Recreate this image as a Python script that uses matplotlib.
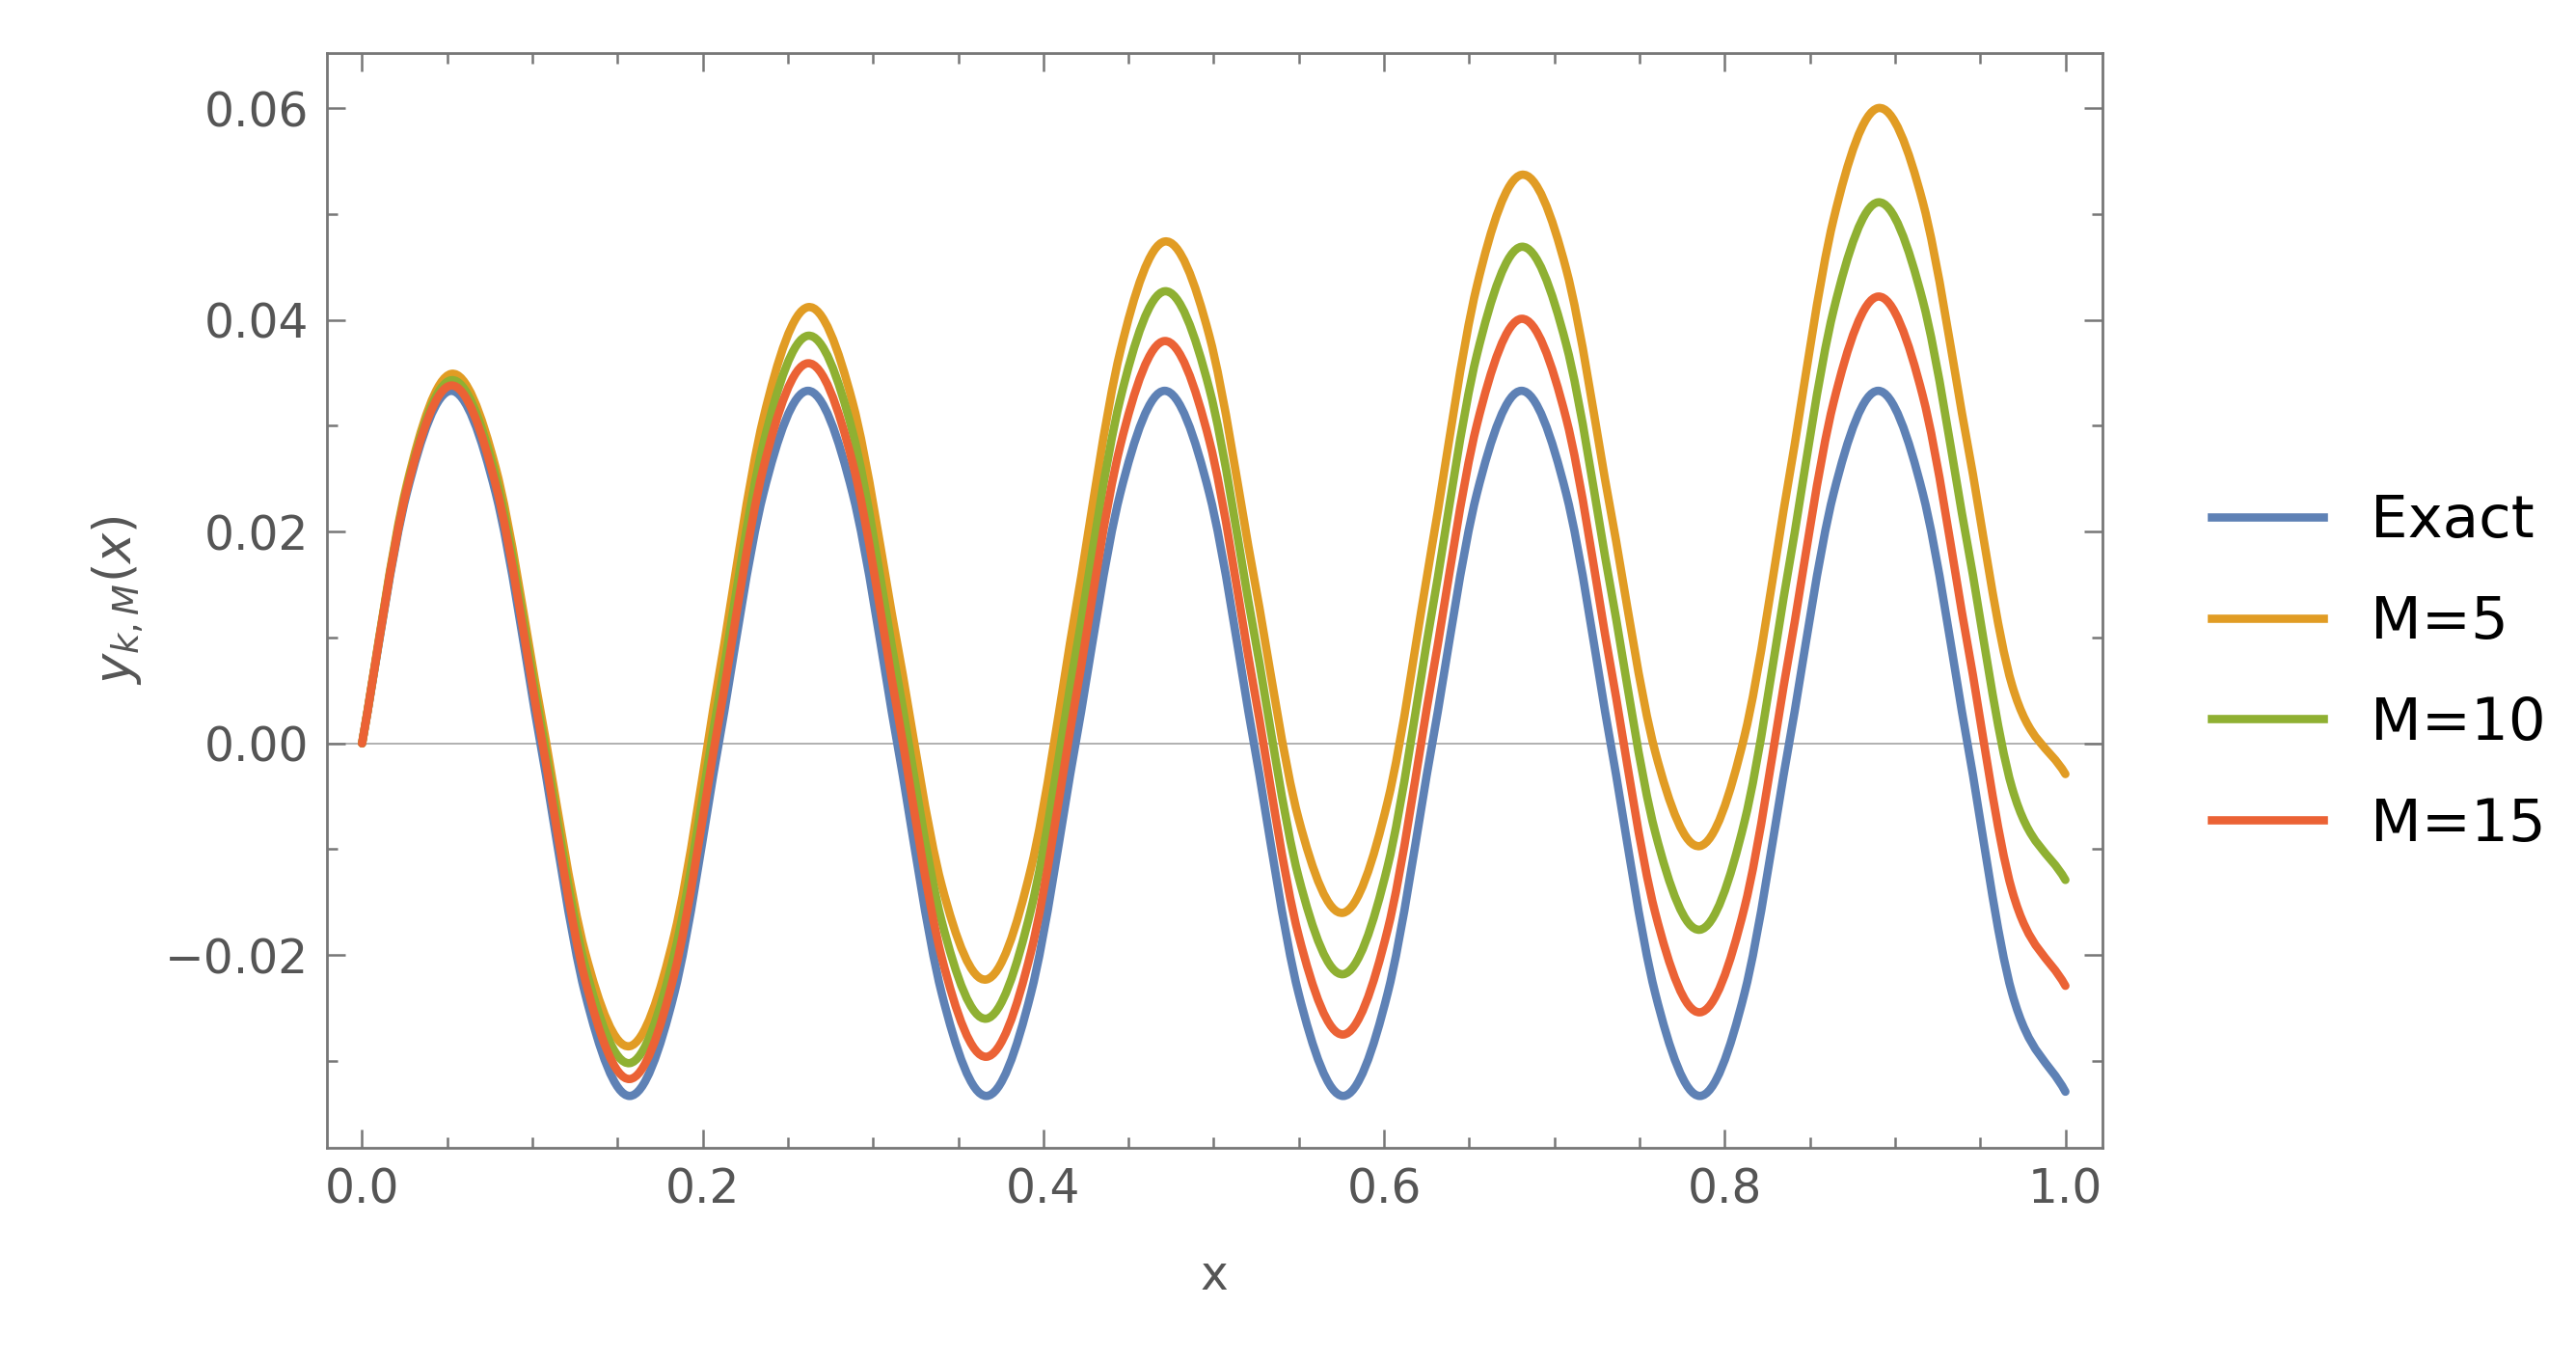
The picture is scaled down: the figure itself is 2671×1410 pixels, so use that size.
import numpy as np
import matplotlib
matplotlib.use("Agg")
import matplotlib.pyplot as plt
from matplotlib.path import Path
from matplotlib.patches import PathPatch
from matplotlib.lines import Line2D
from matplotlib.ticker import MultipleLocator

x = [0, .0262, .0524, .0785, .1047, .1309, .1571, .1833, .2094, .2356, .2618, .2880, .3142, .3403,
     .3665, .3927, .4189, .4451, .4712, .4974, .5236, .5498, .5760, .6021, .6283, .6545, .6807, .7069,
     .7330, .7592, .7854, .8116, .8378, .8639, .8901, .9163, .9425, .9687, 1.0]
exact = [0, .0236, .0333, .0236, 0, -.0236, -.0333, -.0236, 0, .0236, .0333, .0236, 0, -.0236,
         -.0333, -.0236, 0, .0236, .0333, .0236, 0, -.0236, -.0333, -.0236, 0, .0236, .0333, .0236,
         0, -.0236, -.0333, -.0236, 0, .0236, .0333, .0236, 0, -.0236, -.0329]
m5 = [0, .0244, .0349, .0260, .0031, -.0197, -.0286, -.0181, .0063, .0307, .0412, .0322, .0094, -.0134,
      -.0223, -.0118, .0126, .0370, .0474, .0385, .0157, -.0071, -.0160, -.0055, .0188, .0432, .0537, .0448,
      .0220, -.0008, -.0097, .0007, .0251, .0495, .0600, .0511, .0283, .0055, -.0029]
m10 = [0, .0241, .0343, .0252, .0021, -.0210, -.0302, -.0199, .0042, .0283, .0385, .0294, .0063, -.0168,
       -.0260, -.0157, .0084, .0325, .0427, .0335, .0105, -.0126, -.0218, -.0116, .0126, .0367, .0469, .0377,
       .0147, -.0084, -.0176, -.0074, .0168, .0409, .0511, .0418, .0188, -.0042, -.0129]
m15 = [0, .0239, .0338, .0244, .0011, -.0223, -.0317, -.0218, .0021, .0260, .0359, .0265, .0031, -.0202,
       -.0296, -.0197, .0042, .0281, .0380, .0286, .0052, -.0181, -.0275, -.0176, .0063, .0301, .0401, .0307,
       .0073, -.0160, -.0254, -.0155, .0084, .0322, .0422, .0328, .0094, -.0139, -.0229]
labels = ["Exact", "M=5", "M=10", "M=15"]
colors = ["#5E81B5", "#E19C24", "#8FB032", "#EB6235"]

def smooth_path(xs, ys):
    p = np.column_stack([xs, ys]).astype(float)
    n = len(p)
    verts = [p[0]]
    codes = [Path.MOVETO]
    for i in range(n - 1):
        p0 = p[i - 1] if i > 0 else p[i]
        p1, p2 = p[i], p[i + 1]
        p3 = p[i + 2] if i + 2 < n else p[i + 1]
        h = p2[0] - p1[0]
        t1 = (p2 - p0) / max(p2[0] - p0[0], 1e-9) * h
        t2 = (p3 - p1) / max(p3[0] - p1[0], 1e-9) * h
        verts += [p1 + t1 / 3, p2 - t2 / 3, p2]
        codes += [Path.CURVE4] * 3
    return Path(verts, codes)

fig = plt.figure(figsize=(26.71, 14.10), dpi=100)
ax = fig.add_axes([0.127, 0.156, 0.689, 0.805])
ax.axhline(0, color="#aaaaaa", lw=1.3, zorder=1)
series = [exact, m5, m10, m15]
for ys, c in zip(series, colors):
    ax.add_patch(PathPatch(smooth_path(x, ys), fill=False, edgecolor=c, lw=6.2,
                           capstyle="round", joinstyle="round", zorder=2))
ax.set_xlim(-0.0205, 1.0215)
ax.set_ylim(-0.0382, 0.0652)
ax.xaxis.set_major_locator(MultipleLocator(0.2))
ax.xaxis.set_minor_locator(MultipleLocator(0.05))
ax.yaxis.set_major_locator(MultipleLocator(0.02))
ax.yaxis.set_minor_locator(MultipleLocator(0.01))
ax.xaxis.set_major_formatter(matplotlib.ticker.FuncFormatter(lambda v, p: f"{v:.1f}"))
ax.yaxis.set_major_formatter(matplotlib.ticker.FuncFormatter(
    lambda v, p: ("\u2212" if v < -1e-9 else "") + f"{abs(v):.2f}"))
gray = "#555555"
for s in ax.spines.values():
    s.set_color("#777777")
    s.set_linewidth(2)
ax.tick_params(which="both", direction="in", top=True, right=True, colors="#777777",
               labelcolor=gray, labelsize=35, width=1.8, pad=14)
ax.tick_params(which="major", length=14)
ax.tick_params(which="minor", length=8)
ax.set_xlabel("x", fontsize=35, color=gray, labelpad=30)
ax.set_ylabel(r"$y_{k,M}(x)$", fontsize=38, color=gray, labelpad=14)

handles = [Line2D([], [], color=c, lw=6.2) for c in colors]
fig.legend(handles, labels, loc="center left", bbox_to_anchor=(0.838, 0.505), frameon=False,
           fontsize=44, handlelength=1.9, labelspacing=0.75, handletextpad=0.8)
fig.savefig("out.png", dpi=100)
